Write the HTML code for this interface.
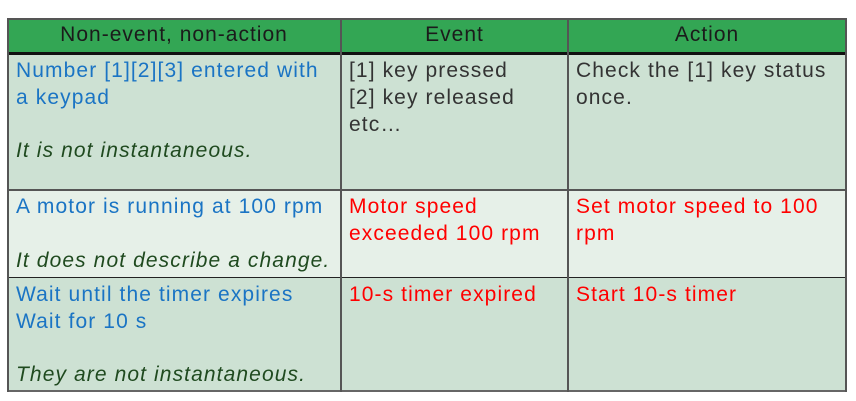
<!DOCTYPE html>
<html><head><style>
body{margin:0;width:856px;height:401px;background:#fff;position:relative;font-family:"Liberation Sans","Noto Sans CJK JP",sans-serif;overflow:hidden}
.c{position:absolute;box-sizing:border-box}
.t{position:absolute;font-size:21px;line-height:27px;white-space:pre;letter-spacing:1.1px}
.b{color:#1a74c4}.k{color:#333}.r{color:#f00}.i{font-style:italic;color:#1f4a1f}
.h{position:absolute;font-size:21px;letter-spacing:1px;color:#1b1b1b;text-align:center;line-height:34px;top:18px}
</style></head><body>
<div class="c" style="left:8px;top:18px;width:838px;height:35px;background:#33a654"></div>
<div class="c" style="left:8px;top:53px;width:838px;height:137px;background:#cde1d3"></div>
<div class="c" style="left:8px;top:190px;width:838px;height:87px;background:#e6f0e8"></div>
<div class="c" style="left:8px;top:277px;width:838px;height:114px;background:#cde1d3"></div>
<div class="c" style="left:7px;top:18px;width:840px;height:2px;background:#555"></div>
<div class="c" style="left:7px;top:52px;width:840px;height:3px;background:#111"></div>
<div class="c" style="left:7px;top:189px;width:840px;height:2px;background:#555"></div>
<div class="c" style="left:7px;top:277px;width:840px;height:1px;background:#222"></div>
<div class="c" style="left:7px;top:390px;width:840px;height:2px;background:#666"></div>
<div class="c" style="left:7px;top:18px;width:2px;height:374px;background:#555"></div>
<div class="c" style="left:340px;top:18px;width:2px;height:374px;background:#555"></div>
<div class="c" style="left:567px;top:18px;width:2px;height:374px;background:#555"></div>
<div class="c" style="left:845px;top:18px;width:2px;height:374px;background:#555"></div>
<div class="h" style="left:8px;width:332px">Non-event, non-action</div>
<div class="h" style="left:342px;width:225px">Event</div>
<div class="h" style="left:569px;width:276px">Action</div>
<div class="t b" style="left:16px;top:57px">Number [1][2][3] entered with
a keypad</div>
<div class="t i" style="left:16px;top:137px">It is not instantaneous.</div>
<div class="t k" style="left:349px;top:57px">[1] key pressed
[2] key released
etc…</div>
<div class="t k" style="left:576px;top:57px">Check the [1] key status
once.</div>
<div class="t b" style="left:16px;top:193px">A motor is running at 100 rpm</div>
<div class="t i" style="left:16px;top:247px">It does not describe a change.</div>
<div class="t r" style="left:349px;top:193px">Motor speed
exceeded 100 rpm</div>
<div class="t r" style="left:576px;top:193px">Set motor speed to 100
rpm</div>
<div class="t b" style="left:16px;top:281px">Wait until the timer expires
Wait for 10 s</div>
<div class="t i" style="left:16px;top:361px">They are not instantaneous.</div>
<div class="t r" style="left:349px;top:281px">10-s timer expired</div>
<div class="t r" style="left:576px;top:281px">Start 10-s timer</div>
</body></html>
